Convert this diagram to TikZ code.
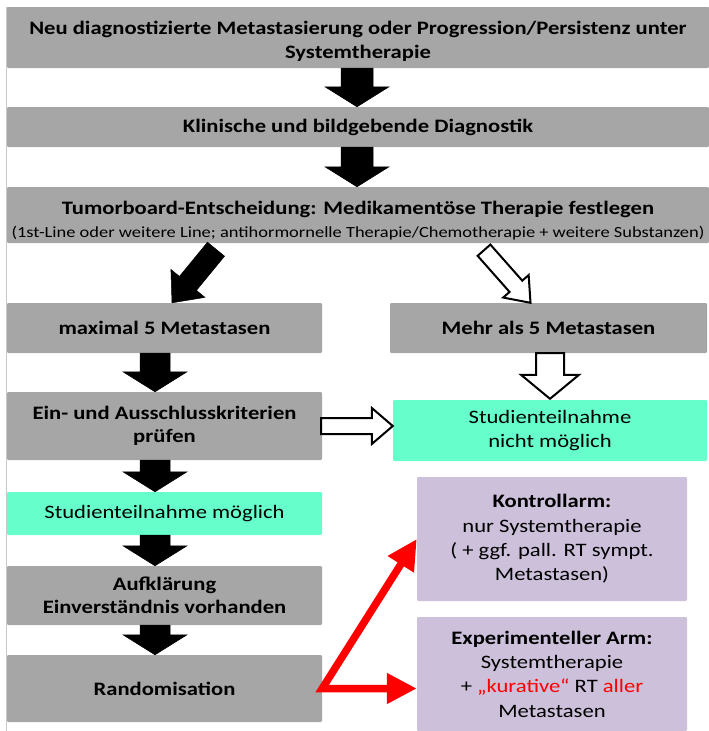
\documentclass[tikz,border=0pt]{standalone}
\usepackage{fontspec}
\setmainfont[FakeStretch=1.19]{Carlito}
\usetikzlibrary{calc,arrows.meta}
\definecolor{boxgray}{HTML}{A6A6A6}
\definecolor{boxgreen}{HTML}{66FFCC}
\definecolor{boxpurple}{HTML}{CCC0DA}
\definecolor{framegray}{HTML}{C8C8C8}
\definecolor{arrred}{HTML}{FF0000}
% block arrow: style, from, to, shaft half width, head half width, head length
\newcommand\blockarrow[6]{%
  \draw[#1] let \p1=#2, \p2=#3,
    \n1={atan2(\y2-\y1,\x2-\x1)},
    \n2={veclen(\x2-\x1,\y2-\y1)-#6} in
    ($(\p1)+(\n1+90:#4)$) -- ++(\n1:\n2) -- ++(\n1+90:#5-#4) -- (\p2)
    -- ($(\p1)+(\n1:\n2)+(\n1-90:#5)$) -- ++(\n1+90:#5-#4)
    -- ($(\p1)+(\n1-90:#4)$) -- cycle;}
\tikzset{
  boxbase/.style={inner sep=0pt, rounded corners=1.2pt, align=center},
  graybox/.style={boxbase, fill=boxgray, font=\fontsize{19}{23.5}\selectfont\bfseries},
  greenbox/.style={boxbase, fill=boxgreen, font=\fontsize{19}{24}\selectfont},
  purplebox/.style={boxbase, fill=boxpurple, font=\fontsize{19}{24.3}\selectfont},
  blackarrow/.style={fill=black, draw=black, line width=0.5pt, line join=miter},
  whitearrow/.style={fill=white, draw=black, line width=2pt, line join=miter},
  redconn/.style={draw=arrred, line width=7.5pt, line join=miter,
    {Triangle[width=29pt,length=30pt]}-{Triangle[width=29pt,length=30pt]}},
}
\begin{document}
\begin{tikzpicture}[x=1pt, y=-1pt]
\useasboundingbox (0,0) rectangle (709,731);
% frame
\draw[framegray, line width=1pt] (6.5,731) -- (6.5,7) -- (709,7);
% boxes
\node[graybox, minimum width=702pt, minimum height=61pt] (top) at (358,37.5)
  {\rule{0pt}{20.5pt}Neu diagnostizierte Metastasierung oder Progression/Persistenz unter\\Systemtherapie};
\node[graybox, minimum width=702pt, minimum height=40pt] (klin) at (358,127)
  {Klinische und bildgebende Diagnostik};
\node[graybox, minimum width=702pt, minimum height=56pt] (tumor) at (358,215)
  {\rule{0pt}{24pt}Tumorboard-Entscheidung: Medikamentöse Therapie festlegen\\[-1pt]
   {\fontsize{15.5}{18}\selectfont\mdseries (1st-Line oder weitere Line; antihormornelle Therapie/Chemotherapie + weitere Substanzen)}};
\node[graybox, minimum width=315pt, minimum height=50pt] (max) at (164.5,328)
  {maximal 5 Metastasen};
\node[graybox, minimum width=317pt, minimum height=50pt] (mehr) at (548.5,328)
  {Mehr als 5 Metastasen};
\node[graybox, minimum width=315pt, minimum height=68pt] (ein) at (164.5,426)
  {Ein- und Ausschlusskriterien\\prüfen};
\node[greenbox, minimum width=314pt, minimum height=61pt] (nicht) at (550,430.5)
  {Studienteilnahme\\nicht möglich};
\node[greenbox, minimum width=315pt, minimum height=43pt] (moeg) at (164.5,513.5)
  {Studienteilnahme möglich};
\node[graybox, minimum width=315pt, minimum height=59pt] (aufk) at (164.5,595.5)
  {Aufklärung\\Einverständnis vorhanden};
\node[graybox, minimum width=315pt, minimum height=67pt] (rand) at (164.5,688.5)
  {Randomisation};
\node[purplebox, minimum width=270pt, minimum height=124pt] (kon) at (552,539)
  {\textbf{Kontrollarm:}\\nur Systemtherapie\\( + ggf. pall. RT sympt.\\Metastasen)};
\node[purplebox, minimum width=270pt, minimum height=114pt] (exp) at (552,674)
  {\textbf{Experimenteller Arm:}\\Systemtherapie\\+ \textcolor{arrred}{„kurative“} RT \textcolor{arrred}{aller}\\Metastasen};
% block arrows
\blockarrow{blackarrow}{([xshift=-1pt]top.south)}{([xshift=-1pt]klin.north)}{16pt}{32pt}{20pt}
\blockarrow{blackarrow}{([xshift=-1pt]klin.south)}{([xshift=-1pt]tumor.north)}{16pt}{32pt}{20pt}
\blockarrow{blackarrow}{([shift={(-142,6)}]tumor.south)}{([xshift=7.5pt]max.north)}{11pt}{22pt}{25pt}
\blockarrow{whitearrow}{([shift={(126,7)}]tumor.south)}{([xshift=-18pt]mehr.north)}{8.5pt}{17pt}{22pt}
\blockarrow{blackarrow}{([xshift=-9.5pt]max.south)}{([xshift=-9.5pt]ein.north)}{15pt}{32pt}{20pt}
\blockarrow{whitearrow}{(mehr.south -| nicht.north)}{([yshift=1pt]nicht.north)}{14pt}{29pt}{24pt}
\blockarrow{whitearrow}{([xshift=-1pt]ein.east)}{(nicht.west |- ein.east)}{8pt}{18pt}{21pt}
\blockarrow{blackarrow}{([xshift=-9.5pt]ein.south)}{([xshift=-9.5pt]moeg.north)}{15pt}{32pt}{20pt}
\blockarrow{blackarrow}{([xshift=-9.5pt]moeg.south)}{([xshift=-9.5pt]aufk.north)}{15pt}{32pt}{20pt}
\blockarrow{blackarrow}{([xshift=-9.5pt]aufk.south)}{([xshift=-9.5pt]rand.north)}{15pt}{32pt}{20pt}
% red connectors
\draw[redconn] (kon.west) -- (rand.east) -- (exp.west |- rand.east);
\end{tikzpicture}
\end{document}
